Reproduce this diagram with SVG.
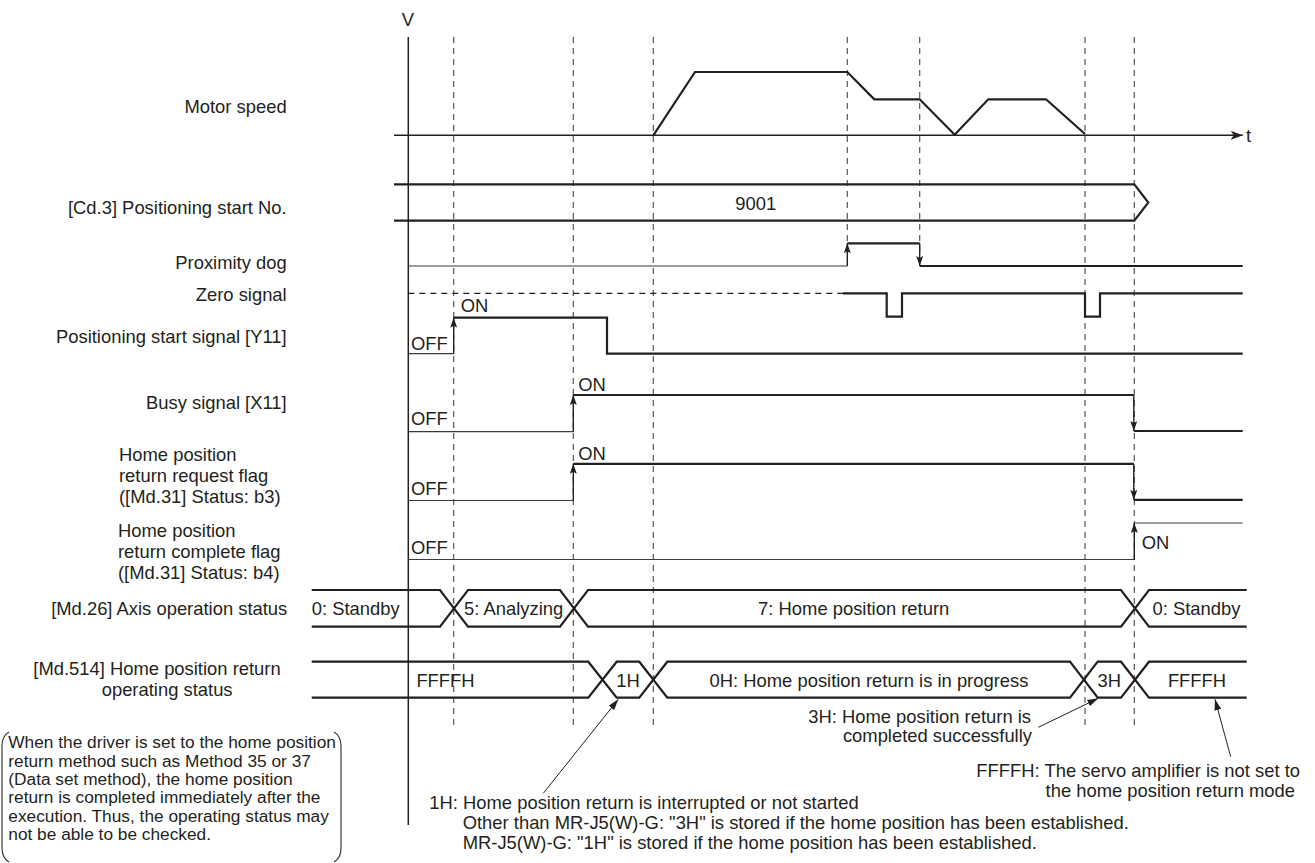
<svg xmlns="http://www.w3.org/2000/svg" width="1315" height="863" viewBox="0 0 1315 863">
<style>
text{font-family:"Liberation Sans",Arial,sans-serif;font-size:18.4px;fill:#231f20}
.note{font-size:17.3px}
.end{text-anchor:end}
.mid{text-anchor:middle}
.thick{fill:none;stroke:#231f20;stroke-width:2.2}
.thin{fill:none;stroke:#3a3a3a;stroke-width:1.2}
.axis{fill:none;stroke:#231f20;stroke-width:1.5}
.dash{fill:none;stroke:#555;stroke-width:1.2;stroke-dasharray:6 5}
.zdash{fill:none;stroke:#231f20;stroke-width:1.3;stroke-dasharray:6 5}
.edge{fill:none;stroke:#231f20;stroke-width:1.4;marker-end:url(#ea)}
.ptr{fill:none;stroke:#231f20;stroke-width:1;marker-end:url(#pa)}
</style>
<defs>
<marker id="ea" viewBox="0 0 10 7" refX="10" refY="3.5" markerWidth="10" markerHeight="7" markerUnits="userSpaceOnUse" orient="auto">
<path d="M0,0 L10,3.5 L0,7 L2,3.5 z" fill="#231f20"/>
</marker>
<marker id="pa" viewBox="0 0 11 7" refX="11" refY="3.5" markerWidth="11" markerHeight="7" markerUnits="userSpaceOnUse" orient="auto">
<path d="M0,0 L11,3.5 L0,7 z" fill="#231f20"/>
</marker>
<marker id="ta" viewBox="0 0 12 9" refX="12" refY="4.5" markerWidth="12" markerHeight="9" markerUnits="userSpaceOnUse" orient="auto">
<path d="M0,0 L12,4.5 L0,9 L3,4.5 z" fill="#231f20"/>
</marker>
</defs>

<g id="guides">
<line class="dash" x1="453.7" y1="37" x2="453.7" y2="730"/>
<line class="dash" x1="573.3" y1="37" x2="573.3" y2="730"/>
<line class="dash" x1="653.3" y1="37" x2="653.3" y2="730"/>
<line class="dash" x1="847.3" y1="37" x2="847.3" y2="243"/>
<line class="dash" x1="919.7" y1="37" x2="919.7" y2="256"/>
<line class="dash" x1="1085" y1="37" x2="1085" y2="730"/>
<line class="dash" x1="1134.3" y1="37" x2="1134.3" y2="730"/>
</g>

<g id="axes">
<line class="axis" x1="408.3" y1="37" x2="408.3" y2="825"/>
<line class="axis" x1="394" y1="135.3" x2="1242.7" y2="135.3" style="marker-end:url(#ta)"/>
<text x="408" y="26" class="mid">V</text>
<text x="1246" y="142">t</text>
</g>

<g id="motor-speed">
<text x="286.7" y="113.3" class="end">Motor speed</text>
<polyline class="thick" points="653.3,135.3 695,72 847.3,72 874.3,99.3 919.7,99.3 954.7,134.7 988.3,99.3 1046,99.3 1085,134"/>
</g>

<g id="cd3">
<text x="286.7" y="214" class="end">[Cd.3] Positioning start No.</text>
<path class="thick" d="M394,184.3 H1134.3 L1148.3,202.5 L1134.3,220.7 H394"/>
<text x="755.7" y="210" class="mid">9001</text>
</g>

<g id="proximity-dog">
<text x="286.7" y="268.7" class="end">Proximity dog</text>
<path class="thin" d="M408.3,266 H847.3"/>
<path class="thick" d="M847.3,243.3 H919.7"/>
<path class="thick" d="M919.7,266 H1242.7"/>
<line class="edge" x1="847.3" y1="266" x2="847.3" y2="243.3"/>
<line class="edge" x1="919.7" y1="243.3" x2="919.7" y2="266"/>
</g>

<g id="zero-signal">
<text x="286.7" y="301" class="end">Zero signal</text>
<path class="zdash" d="M408.3,293.3 H843"/>
<path class="thick" d="M843,293.3 H886.7 V316.7 H902 V293.3 H1085 V316.7 H1100 V293.3 H1242.7"/>
</g>

<g id="positioning-start">
<text x="286.7" y="342.7" class="end">Positioning start signal [Y11]</text>
<path class="thin" d="M408.3,353.7 H453.7"/>
<path class="thick" d="M453.7,317.7 H607 V353.7 H1242.7"/>
<line class="edge" x1="453.7" y1="353.7" x2="453.7" y2="317.7"/>
<text x="411" y="350">OFF</text>
<text x="460.7" y="312.3">ON</text>
</g>

<g id="busy">
<text x="286.7" y="409" class="end">Busy signal [X11]</text>
<path class="thin" d="M408.3,431.7 H573.3"/>
<path class="thick" d="M573.3,395 H1133.8"/>
<path class="thick" d="M1133.8,431 H1242.7"/>
<line class="edge" x1="573.3" y1="431.7" x2="573.3" y2="395"/>
<line class="edge" x1="1133.8" y1="395" x2="1133.8" y2="431"/>
<text x="411" y="425">OFF</text>
<text x="578.3" y="390.5">ON</text>
</g>

<g id="request-flag">
<text x="119" y="460.7">Home position</text>
<text x="119" y="481.7">return request flag</text>
<text x="119" y="502.7">([Md.31] Status: b3)</text>
<path class="thin" d="M408.3,500.5 H573.3"/>
<path class="thick" d="M573.3,463.8 H1133.8"/>
<path class="thick" d="M1133.8,499.8 H1242.7"/>
<line class="edge" x1="573.3" y1="500.5" x2="573.3" y2="463.8"/>
<line class="edge" x1="1133.8" y1="463.8" x2="1133.8" y2="499.8"/>
<text x="411" y="495">OFF</text>
<text x="578.3" y="460">ON</text>
</g>

<g id="complete-flag">
<text x="118" y="537.3">Home position</text>
<text x="118" y="558.3">return complete flag</text>
<text x="118" y="579.3">([Md.31] Status: b4)</text>
<path class="thin" d="M408.3,559.5 H1134.3"/>
<path class="thin" d="M1134.3,523 H1242.7"/>
<line class="edge" x1="1134.3" y1="559.5" x2="1134.3" y2="523"/>
<text x="411" y="554">OFF</text>
<text x="1141.7" y="549.3">ON</text>
</g>

<g id="md26">
<text x="287.3" y="614.5" class="end">[Md.26] Axis operation status</text>
<path class="thick" d="M311.7,590 H440 L468,626.7 H560 L588,590 H1121 L1149,626.7 H1246.7"/>
<path class="thick" d="M311.7,626.7 H440 L468,590 H560 L588,626.7 H1121 L1149,590 H1246.7"/>
<text x="311.7" y="614.8">0: Standby</text>
<text x="513.7" y="614.8" class="mid">5: Analyzing</text>
<text x="853.7" y="614.8" class="mid">7: Home position return</text>
<text x="1196.5" y="614.8" class="mid">0: Standby</text>
</g>

<g id="md514">
<text x="33.3" y="675">[Md.514] Home position return</text>
<text x="101.7" y="696">operating status</text>
<path class="thick" d="M311.7,661.7 H588.3 L616.7,697.7 H639.3 L667.3,661.7 H1070 L1097.7,697.7 H1121 L1149,661.7 H1246.7"/>
<path class="thick" d="M311.7,697.7 H588.3 L616.7,661.7 H639.3 L667.3,697.7 H1070 L1097.7,661.7 H1121 L1149,697.7 H1246.7"/>
<text x="445.5" y="686.5" class="mid">FFFFH</text>
<text x="628" y="686.5" class="mid">1H</text>
<text x="869" y="686.5" class="mid">0H: Home position return is in progress</text>
<text x="1109.3" y="686.5" class="mid">3H</text>
<text x="1197" y="686.5" class="mid">FFFFH</text>
</g>

<g id="connectors">
<line class="ptr" x1="543.3" y1="793.3" x2="618.3" y2="699.3"/>
<line class="ptr" x1="1038.3" y1="727.3" x2="1098.3" y2="698.3"/>
<line class="ptr" x1="1230.7" y1="756.7" x2="1215" y2="699.3"/>
</g>

<g id="label-3h">
<text x="1031" y="722.7" class="end">3H: Home position return is</text>
<text x="1032" y="742" class="end">completed successfully</text>
</g>

<g id="label-ffffh">
<text x="1300" y="777.3" class="end">FFFFH: The servo amplifier is not set to</text>
<text x="1295" y="797.3" class="end">the home position return mode</text>
</g>

<g id="label-1h">
<text x="429.3" y="809">1H: Home position return is interrupted or not started</text>
<text x="462.7" y="829">Other than MR-J5(W)-G: "3H" is stored if the home position has been established.</text>
<text x="462.7" y="849">MR-J5(W)-G: "1H" is stored if the home position has been established.</text>
</g>

<g id="note">
<path class="thin" d="M9,732 Q2,736 2,746 V848 Q2,858 9,862"/>
<path class="thin" d="M334,732 Q341,736 341,746 V848 Q341,858 334,862"/>
<text class="note" x="8.3" y="748.3">When the driver is set to the home position</text>
<text class="note" x="8.3" y="766.7">return method such as Method 35 or 37</text>
<text class="note" x="8.3" y="785">(Data set method), the home position</text>
<text class="note" x="8.3" y="803.3">return is completed immediately after the</text>
<text class="note" x="8.3" y="821.7">execution. Thus, the operating status may</text>
<text class="note" x="8.3" y="840">not be able to be checked.</text>
</g>
</svg>
